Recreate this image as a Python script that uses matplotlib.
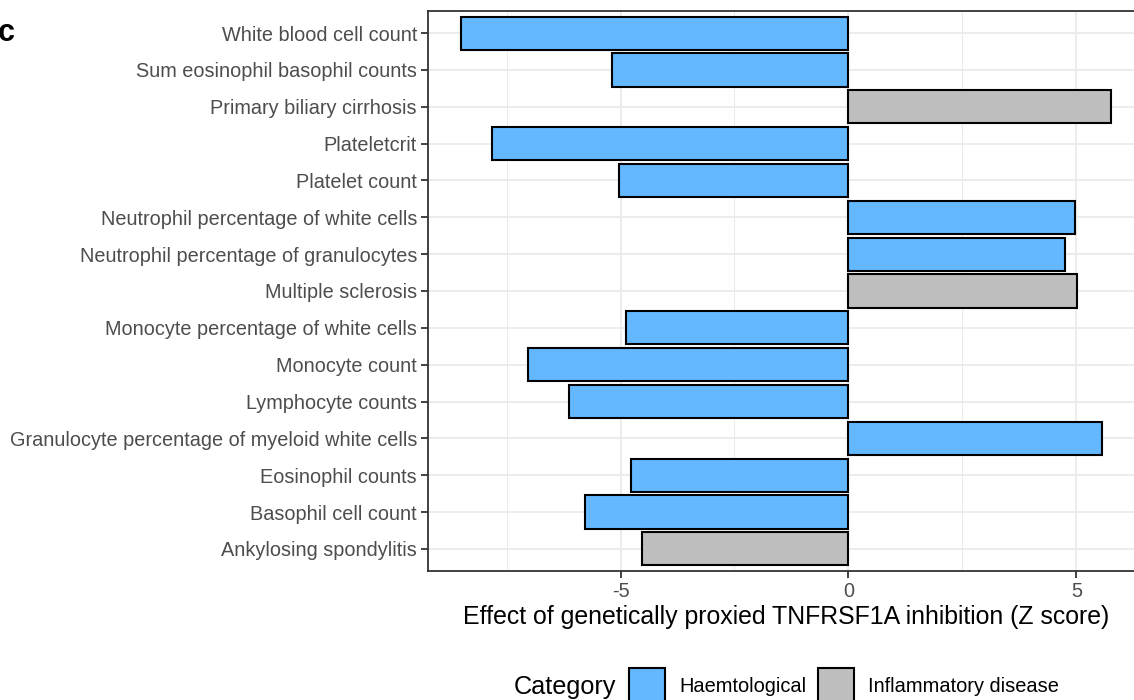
import matplotlib
matplotlib.use("Agg")
import matplotlib.pyplot as plt
from matplotlib.patches import Rectangle
from matplotlib.ticker import MultipleLocator

plt.rcParams['font.family'] = ['Liberation Sans', 'DejaVu Sans']
plt.rcParams['axes.unicode_minus'] = False

traits = [
    "White blood cell count",
    "Sum eosinophil basophil counts",
    "Primary biliary cirrhosis",
    "Plateletcrit",
    "Platelet count",
    "Neutrophil percentage of white cells",
    "Neutrophil percentage of granulocytes",
    "Multiple sclerosis",
    "Monocyte percentage of white cells",
    "Monocyte count",
    "Lymphocyte counts",
    "Granulocyte percentage of myeloid white cells",
    "Eosinophil counts",
    "Basophil cell count",
    "Ankylosing spondylitis",
]
zscores = [-8.51, -5.18, 5.77, -7.83, -5.04, 4.98, 4.74, 5.02, -4.87, -7.04,
           -6.14, 5.57, -4.76, -5.77, -4.54]
categories = ["Haemtological", "Haemtological", "Inflammatory disease",
              "Haemtological", "Haemtological", "Haemtological", "Haemtological",
              "Inflammatory disease", "Haemtological", "Haemtological",
              "Haemtological", "Haemtological", "Haemtological", "Haemtological",
              "Inflammatory disease"]
cat_names = ["Haemtological", "Inflammatory disease"]
cat_colors = {"Haemtological": "#63B8FF", "Inflammatory disease": "#BEBEBE"}

W, H = 1134, 700
fig = plt.figure(figsize=(W / 100, H / 100), dpi=100)
ax_l, ax_r, ax_t, ax_b = 428, 1144, 11, 571
ax = fig.add_axes([ax_l / W, 1 - ax_b / H, (ax_r - ax_l) / W, (ax_b - ax_t) / H])

n = len(traits)
ypos = list(range(n, 0, -1))
ax.barh(ypos, zscores, height=0.9,
        color=[cat_colors[c] for c in categories],
        edgecolor="black", linewidth=1.5, zorder=3)

ax.set_yticks(ypos)
ax.set_yticklabels(traits)
ax.set_ylim(0.4, n + 0.6)
lo = min(zscores); hi = max(zscores); rng = hi - lo
ax.set_xlim(lo - 0.05 * rng, hi + 0.05 * rng)
ax.xaxis.set_major_locator(MultipleLocator(5))
ax.xaxis.set_minor_locator(MultipleLocator(2.5))

ax.grid(True, which="major", color="#EBEBEB", linewidth=1.3, zorder=0)
ax.grid(True, which="minor", axis="x", color="#EBEBEB", linewidth=0.7, zorder=0)
ax.set_axisbelow(True)
for s in ax.spines.values():
    s.set_color("#333333")
    s.set_linewidth(1.3)
ax.tick_params(axis="both", which="major", color="#333333", length=5, width=1.3,
               labelcolor="#4D4D4D", labelsize=14.3, pad=3)
ax.tick_params(axis="x", which="minor", length=0)
ax.set_xlabel("Effect of genetically proxied TNFRSF1A inhibition (Z score)",
              fontsize=17.9, color="black", labelpad=3)

# panel label
fig.text(-2 / W, 1 - 33 / H, "c", fontsize=22, fontweight="bold", va="center", ha="left")

# legend
ly = 687
fig.text(514 / W, 1 - ly / H, "Category", fontsize=18.2, va="center", ha="left")
key_x = [629, 818]
lab_x = [679, 868]
for cn, kx, tx in zip(cat_names, key_x, lab_x):
    fig.patches.append(Rectangle((kx / W, 1 - (ly + 17) / H), 36 / W, 36 / H,
                                 transform=fig.transFigure, facecolor=cat_colors[cn],
                                 edgecolor="black", linewidth=1.5))
    fig.text(tx / W, 1 - ly / H, cn, fontsize=14.4, va="center", ha="left")

fig.savefig("out.png", dpi=100)
